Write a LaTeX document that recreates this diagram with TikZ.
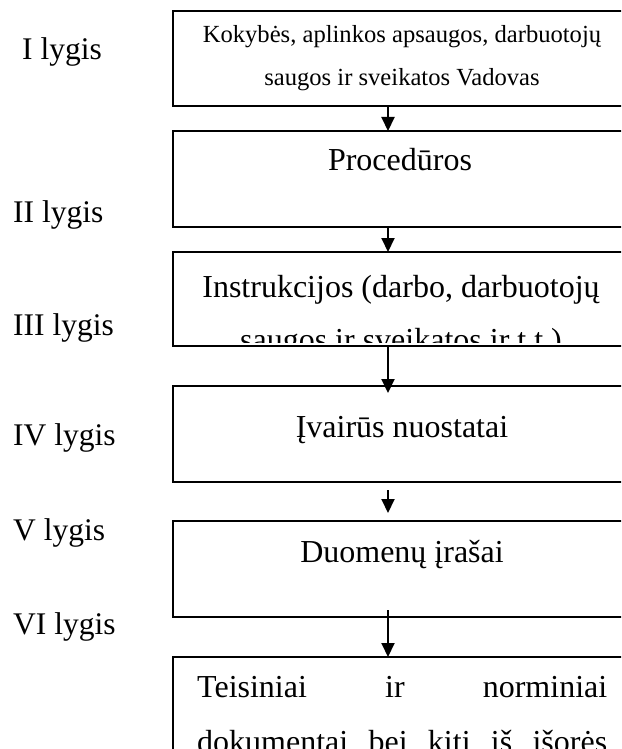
\documentclass[tikz,border=0pt]{standalone}
\usepackage{fontspec}
\setmainfont{Liberation Serif}
\usetikzlibrary{arrows.meta}
\tikzset{
    levelbox/.style={draw, line width=2.6pt, minimum width=458pt, inner sep=0pt, outer sep=0pt, anchor=north},
    levellabel/.style={anchor=base west, inner sep=0pt, font=\fontsize{31.5}{38}\selectfont},
    boxtext/.style={anchor=base, inner sep=0pt, font=\fontsize{32}{53}\selectfont},
    downarrow/.style={-{Triangle[width=13pt,length=14pt]}, line width=2pt},
}

\begin{document}
\begin{tikzpicture}[x=1pt, y=1pt]
    \clip (0,0) rectangle (621,-749);
    % Boxes
    \node[levelbox, minimum height=95pt] (B1) at (402,-11) {};
    \node[levelbox, minimum height=96pt] (B2) at (402,-131) {};
    \node[levelbox, minimum height=94pt] (B3) at (402,-252) {};
    \node[levelbox, minimum height=96pt] (B4) at (402,-386) {};
    \node[levelbox, minimum height=96pt] (B5) at (402,-521) {};
    \node[levelbox, minimum height=150pt] (B6) at (402,-657) {};
    % Box texts (base = last line)
    \node[boxtext, align=center, font=\fontsize{24.6}{43}\selectfont] (T1) at (402,-86) {Kokybės, aplinkos apsaugos, darbuotojų\\saugos ir sveikatos Vadovas};
    \node[boxtext] (T2) at (400,-170) {Procedūros};
    \begin{scope}
        \clip (B3.north west) rectangle ([yshift=4pt]B3.south east);
        \node[boxtext, align=center] (T3) at (401,-350) {Instrukcijos (darbo, darbuotojų\\saugos ir sveikatos ir t.t.)};
    \end{scope}
    \node[boxtext] (T4) at (402,-437) {Įvairūs nuostatai};
    \node[boxtext] (T5) at (402,-562) {Duomenų įrašai};
    \node[boxtext, anchor=base west, align=left, font=\fontsize{32}{55}\selectfont] (T6) at (197,-752)
        {\makebox[410pt][s]{Teisiniai ir norminiai}\\\makebox[410pt][s]{dokumentai bei kiti iš išorės}};
    % Level labels
    \node[levellabel] (L1) at (22,-60) {I lygis};
    \node[levellabel] (L2) at (13,-222) {II lygis};
    \node[levellabel] (L3) at (13,-335) {III lygis};
    \node[levellabel] (L4) at (13,-445) {IV lygis};
    \node[levellabel] (L5) at (13,-540) {V lygis};
    \node[levellabel] (L6) at (13,-634) {VI lygis};
    % Arrows
    \draw[downarrow] ([xshift=-14pt]B1.south) -- ([xshift=-14pt]B2.north);
    \draw[downarrow] ([xshift=-14pt]B2.south) -- ([xshift=-14pt]B3.north);
    \draw[downarrow, shorten >=-7pt] ([xshift=-14pt]B3.south) -- ([xshift=-14pt]B4.north);
    \draw[downarrow, shorten <=8pt, shorten >=8pt] ([xshift=-14pt]B4.south) -- ([xshift=-14pt]B5.north);
    \draw[downarrow, shorten <=-7pt] ([xshift=-14pt]B5.south) -- ([xshift=-14pt]B6.north);
\end{tikzpicture}
\end{document}
